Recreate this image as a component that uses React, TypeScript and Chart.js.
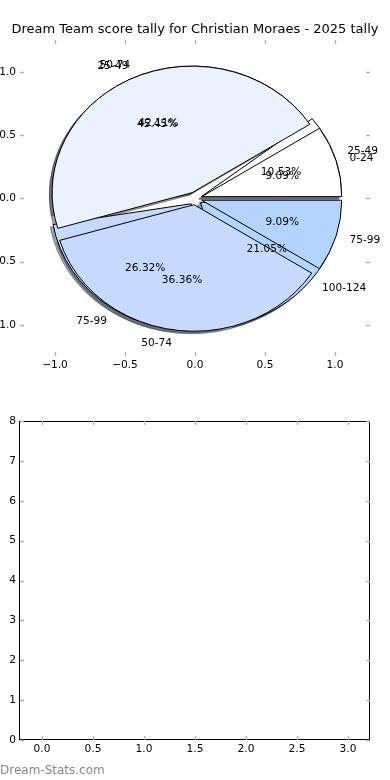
import React, { useEffect, useRef } from 'react';
import { Chart, registerables } from 'chart.js';

Chart.register(...registerables);

// ---------------- data ----------------
const TITLE = 'Dream Team score tally for Christian Moraes - 2025 tally';
const pieALabels = ['25-49', '50-74', '75-99', '100-124'];
const pieAValues = [2, 8, 5, 4];
const pieBLabels = ['0-24', '25-49', '50-74', '75-99'];
const pieBValues = [1, 5, 4, 1];
const sliceColors = ['#ffffff', '#eaf1ff', '#c6d9ff', '#b3d4ff'];
const pieXTicks = [-1, -0.5, 0, 0.5, 1];
const pieYTicks = [-1, -0.5, 0, 0.5, 1];
const emptyXTicks = [0, 0.5, 1, 1.5, 2, 2.5, 3];
const emptyYTicks = [0, 1, 2, 3, 4, 5, 6, 7, 8];
const WATERMARK = 'Dream-Stats.com';

// ---------------- style ----------------
const FONT = 'DejaVu Sans';
const TICK_FONT_SIZE = 10.6;
const TITLE_FONT_SIZE = 13;
const EXPLODE = 0.05;
const LABEL_DIST = 1.1;
const PCT_DIST = 0.6;
const SHADOW_OFFSET = -0.02;
const TICK_COLOR = '#b0b0b0';

function toRgb(hex: string): number[] {
  const n = parseInt(hex.slice(1), 16);
  return [(n >> 16) & 255, (n >> 8) & 255, n & 255];
}

function fmtNum(v: number, digits: number): string {
  const s = Math.abs(v).toFixed(digits);
  return v < 0 ? '\u2212' + s : s;
}

function buildWedges(labels: string[], values: number[]) {
  const total = values.reduce((a, b) => a + b, 0);
  let start = 0;
  return values.map((v, i) => {
    const t1 = start;
    const t2 = start + (360 * v) / total;
    start = t2;
    const mid = ((t1 + t2) / 2) * Math.PI / 180;
    return {
      label: labels[i],
      pct: ((100 * v) / total).toFixed(2) + '%',
      t1,
      t2,
      mid,
      cx: EXPLODE * Math.cos(mid),
      cy: EXPLODE * Math.sin(mid),
      color: sliceColors[i % sliceColors.length],
    };
  });
}

const titlePlugin = {
  id: 'axesTitle',
  afterDraw(chart: any) {
    const { ctx, chartArea: a } = chart;
    ctx.save();
    ctx.fillStyle = '#000';
    ctx.font = `${TITLE_FONT_SIZE}px "${FONT}"`;
    ctx.textAlign = 'center';
    ctx.textBaseline = 'middle';
    ctx.fillText(TITLE, (a.left + a.right) / 2, a.top - 10);
    ctx.restore();
  },
};

const piePlugin = {
  id: 'twinPies',
  afterDatasetsDraw(chart: any) {
    const { ctx } = chart;
    const x = chart.scales.x;
    const y = chart.scales.y;
    const rx = x.getPixelForValue(1) - x.getPixelForValue(0);
    const ry = y.getPixelForValue(0) - y.getPixelForValue(1);
    const pies = [buildWedges(pieALabels, pieAValues), buildWedges(pieBLabels, pieBValues)];
    const path = (w: any, dx: number, dy: number) => {
      const px = x.getPixelForValue(w.cx + dx);
      const py = y.getPixelForValue(w.cy + dy);
      ctx.beginPath();
      ctx.moveTo(px, py);
      ctx.ellipse(px, py, rx, ry, 0, (-w.t1 * Math.PI) / 180, (-w.t2 * Math.PI) / 180, true);
      ctx.closePath();
    };
    ctx.save();
    ctx.lineJoin = 'miter';
    ctx.lineWidth = 1;
    // shadows (lower z-order)
    pies.forEach((p) =>
      p.forEach((w) => {
        const [r, g, b] = toRgb(w.color);
        const c = `rgba(${Math.round(0.3 * r)},${Math.round(0.3 * g)},${Math.round(0.3 * b)},0.5)`;
        path(w, SHADOW_OFFSET, SHADOW_OFFSET);
        ctx.fillStyle = c;
        ctx.strokeStyle = c;
        ctx.fill();
        ctx.stroke();
      })
    );
    // wedges
    pies.forEach((p) =>
      p.forEach((w) => {
        path(w, 0, 0);
        ctx.fillStyle = w.color;
        ctx.strokeStyle = '#000';
        ctx.fill();
        ctx.stroke();
      })
    );
    // texts
    ctx.fillStyle = '#000';
    ctx.font = `${TICK_FONT_SIZE}px "${FONT}"`;
    ctx.textBaseline = 'middle';
    pies.forEach((p) =>
      p.forEach((w) => {
        const lx = w.cx + LABEL_DIST * Math.cos(w.mid);
        const ly = w.cy + LABEL_DIST * Math.sin(w.mid);
        ctx.textAlign = lx > 0 ? 'left' : 'right';
        ctx.fillText(w.label, x.getPixelForValue(lx), y.getPixelForValue(ly) + 0.5);
        const qx = w.cx + PCT_DIST * Math.cos(w.mid);
        const qy = w.cy + PCT_DIST * Math.sin(w.mid);
        ctx.textAlign = 'center';
        ctx.fillText(w.pct, x.getPixelForValue(qx), y.getPixelForValue(qy) + 0.5);
      })
    );
    ctx.restore();
  },
};

function tickMarks(xTicks: number[], yTicks: number[], frame: boolean) {
  return {
    id: 'mplTicks',
    afterDraw(chart: any) {
      const { ctx, chartArea: a } = chart;
      const x = chart.scales.x;
      const y = chart.scales.y;
      const L = 4;
      ctx.save();
      if (frame) {
        ctx.strokeStyle = '#000';
        ctx.lineWidth = 1;
        ctx.strokeRect(Math.round(a.left) - 0.5, Math.round(a.top) + 0.5, Math.round(a.right - a.left), Math.round(a.bottom - a.top) - 1);
      }
      ctx.strokeStyle = TICK_COLOR;
      ctx.lineWidth = 1.3;
      ctx.beginPath();
      xTicks.forEach((v) => {
        const px = Math.round(x.getPixelForValue(v)) + 0.5;
        ctx.moveTo(px, a.top);
        ctx.lineTo(px, a.top + L);
        ctx.moveTo(px, a.bottom);
        ctx.lineTo(px, a.bottom - L);
      });
      yTicks.forEach((v) => {
        const py = Math.round(y.getPixelForValue(v)) + 0.5;
        ctx.moveTo(a.left, py);
        ctx.lineTo(a.left + L, py);
        ctx.moveTo(a.right, py);
        ctx.lineTo(a.right - L, py);
      });
      ctx.stroke();
      ctx.restore();
    },
  };
}

const watermarkPlugin = {
  id: 'watermark',
  afterDraw(chart: any) {
    const { ctx } = chart;
    ctx.save();
    ctx.fillStyle = '#868686';
    ctx.font = `12px "${FONT}"`;
    ctx.textAlign = 'left';
    ctx.textBaseline = 'middle';
    ctx.fillText(WATERMARK, 0, chart.height - 9.5);
    ctx.restore();
  },
};

function axis(min: number, max: number, values: number[], fmt: (v: number) => string, isX: boolean, size: number, pad: number) {
  return {
    type: 'linear',
    min,
    max,
    grid: { display: false, drawTicks: false, tickLength: 0 },
    border: { display: false },
    afterBuildTicks: (s: any) => {
      s.ticks = values.map((v) => ({ value: v }));
    },
    afterFit: (s: any) => {
      if (isX) s.height = size;
      else s.width = size;
    },
    ticks: {
      padding: pad,
      color: '#000',
      autoSkip: false,
      maxRotation: 0,
      font: { family: FONT, size: TICK_FONT_SIZE },
      callback: (v: any) => fmt(Number(v)),
    },
  };
}

export default function App() {
  const topRef = useRef<HTMLCanvasElement>(null);
  const botRef = useRef<HTMLCanvasElement>(null);

  useEffect(() => {
    Chart.defaults.font.family = FONT;
    const top = new Chart(topRef.current as HTMLCanvasElement, {
      type: 'scatter',
      data: { datasets: [] },
      options: {
        animation: false,
        responsive: false,
        events: [],
        layout: { padding: { top: 40, right: 20, bottom: 0, left: 0 } },
        plugins: {
          legend: { display: false },
          tooltip: { enabled: false },
          title: { display: false },
        },
        scales: {
          x: axis(-1.25, 1.25, pieXTicks, (v) => fmtNum(v, 1), true, 44, 3),
          y: axis(-1.245, 1.252, pieYTicks, (v) => fmtNum(v, 1), false, 20, 4),
        },
      } as any,
      plugins: [piePlugin, tickMarks(pieXTicks, pieYTicks, false), titlePlugin],
    });
    const bottom = new Chart(botRef.current as HTMLCanvasElement, {
      type: 'scatter',
      data: { datasets: [] },
      options: {
        animation: false,
        responsive: false,
        events: [],
        layout: { padding: { top: 21, right: 20, bottom: 0, left: 0 } },
        plugins: { legend: { display: false }, tooltip: { enabled: false } },
        scales: {
          x: axis(-0.2157, 3.2157, emptyXTicks, (v) => fmtNum(v, 1), true, 40, 3),
          y: axis(0, 8, emptyYTicks, (v) => String(Math.round(v)), false, 20, 4),
        },
      } as any,
      plugins: [tickMarks(emptyXTicks, emptyYTicks, true), watermarkPlugin],
    });
    return () => {
      top.destroy();
      bottom.destroy();
    };
  }, []);

  return (
    <div style={{ position: 'absolute', left: 0, top: 0, width: 390, height: 780, background: '#fff' }}>
      <canvas ref={topRef} width={390} height={400} style={{ display: 'block', width: 390, height: 400 }} />
      <canvas ref={botRef} width={390} height={380} style={{ display: 'block', width: 390, height: 380 }} />
    </div>
  );
}
